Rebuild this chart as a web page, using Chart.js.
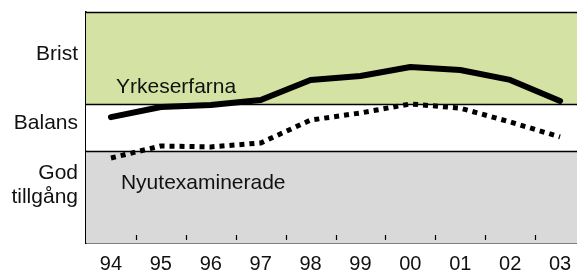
<!DOCTYPE html>
<html>
<head>
<meta charset="utf-8">
<script src="https://cdn.jsdelivr.net/npm/chart.js@4/dist/chart.umd.min.js"></script>
<style>
    html, body { margin: 0; padding: 0; background: #fff; overflow: hidden; }
    #wrap { width: 600px; height: 273px; }
</style>
</head>
<body>
<div id="wrap"><canvas id="chart" width="600" height="273"></canvas></div>
<script>
const years = ['94', '95', '96', '97', '98', '99', '00', '01', '02', '03'];
const yrkeserfarna = [5.45, 5.89, 5.97, 6.19, 7.06, 7.23, 7.62, 7.49, 7.06, 6.15];
const nyutexaminerade = [3.68, 4.20, 4.16, 4.33, 5.32, 5.63, 6.02, 5.84, 5.24, 4.59];
const yTickValues = [2.5, 5.2, 8.18];
const yLabels = [['God', 'tillgång'], 'Balans', 'Brist'];
const bandLimits = [0, 4, 6, 10];
const bandColors = ['#d9d9d9', '#ffffff', '#d4e3a3'];

const fontFamily = '"Liberation Sans", Arial, sans-serif';

const bandsPlugin = {
    id: 'bands',
    beforeDatasetsDraw(chart) {
        const c = chart.ctx;
        const area = chart.chartArea;
        const y = chart.scales.y;
        c.save();
        for (let i = 0; i < bandColors.length; i++) {
            const top = y.getPixelForValue(bandLimits[i + 1]);
            const bot = y.getPixelForValue(bandLimits[i]);
            c.fillStyle = bandColors[i];
            c.fillRect(area.left, top, area.right - area.left, bot - top);
        }
        c.strokeStyle = '#000';
        c.lineWidth = 1.5;
        for (let i = 1; i < bandLimits.length; i++) {
            const py = Math.round(y.getPixelForValue(bandLimits[i])) + 0.5;
            c.beginPath();
            c.moveTo(area.left, py);
            c.lineTo(area.right, py);
            c.stroke();
        }
        // small tick marks between the years, inside the plot
        const x = chart.scales.x;
        c.lineWidth = 1.2;
        for (let i = 0; i < years.length - 1; i++) {
            const px = Math.round((x.getPixelForTick(i) + x.getPixelForTick(i + 1)) / 2) + 0.5;
            c.beginPath();
            c.moveTo(px, area.bottom - 8);
            c.lineTo(px, area.bottom - 3);
            c.stroke();
        }
        // series names
        c.fillStyle = '#111';
        c.font = '21px ' + fontFamily;
        c.textBaseline = 'middle';
        c.textAlign = 'left';
        c.fillText('Yrkeserfarna', x.getPixelForTick(0) + 5, y.getPixelForValue(6.75));
        c.fillText('Nyutexaminerade', x.getPixelForTick(0) + 10, y.getPixelForValue(2.6));
        c.restore();
    }
};

const ctx = document.getElementById('chart');
const mainChart = new Chart(ctx, {
    type: 'line',
    data: {
        labels: years,
        datasets: [
            {
                label: 'Yrkeserfarna',
                data: yrkeserfarna,
                borderColor: '#000',
                borderWidth: 6,
                borderCapStyle: 'round',
                borderJoinStyle: 'round',
                pointRadius: 0,
                tension: 0,
                fill: false,
            },
            {
                label: 'Nyutexaminerade',
                data: nyutexaminerade,
                borderColor: '#000',
                borderWidth: 5,
                borderDash: [5, 5],
                borderCapStyle: 'butt',
                pointRadius: 0,
                tension: 0,
                fill: false,
            }
        ]
    },
    options: {
        responsive: false,
        animation: false,
        layout: { padding: { top: 12, right: 15, left: 0, bottom: 0 } },
        plugins: {
            legend: { display: false },
            tooltip: { enabled: false },
        },
        scales: {
            x: {
                type: 'category',
                offset: true,
                grid: { display: false, drawTicks: false },
                border: { display: true, color: '#000', width: 1.5 },
                ticks: {
                    color: '#111',
                    font: { family: fontFamily, size: 20 },
                    padding: 9,
                    maxRotation: 0,
                    autoSkip: false,
                },
                afterFit(scale) {
                    scale.height = 30;
                    scale.paddingLeft = 0;
                    scale.paddingRight = 0;
                },
            },
            y: {
                min: bandLimits[0],
                max: bandLimits[bandLimits.length - 1],
                grid: { display: false, drawTicks: false },
                border: { display: true, color: '#000', width: 1.5 },
                afterBuildTicks(scale) {
                    scale.ticks = yTickValues.map(v => ({ value: v }));
                },
                ticks: {
                    color: '#111',
                    font: { family: fontFamily, size: 21, lineHeight: 1.15 },
                    padding: 8,
                    callback: (value, index) => yLabels[index],
                },
                afterFit(scale) {
                    scale.width = 86;
                    scale.paddingTop = 0;
                    scale.paddingBottom = 0;
                },
            }
        }
    },
    plugins: [bandsPlugin]
});
</script>
</body>
</html>
